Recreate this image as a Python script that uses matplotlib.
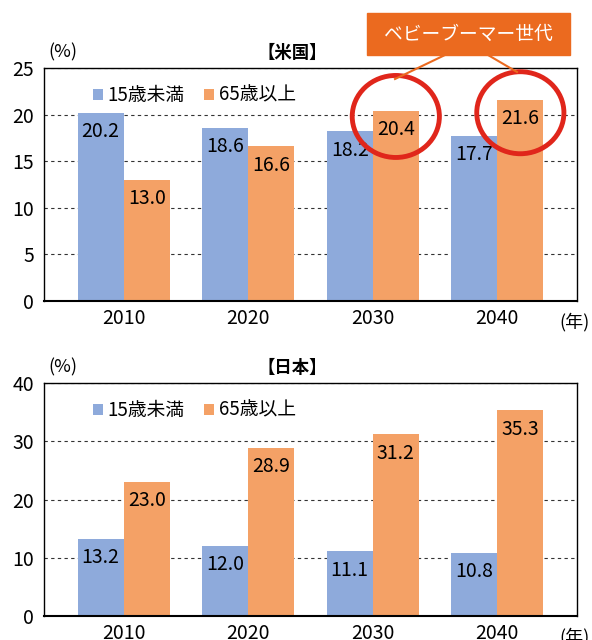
import matplotlib.pyplot as plt
from matplotlib.patches import Ellipse, Rectangle
from matplotlib.lines import Line2D
import numpy as np

plt.rcParams['font.family'] = ['Noto Sans CJK JP', 'DejaVu Sans']

years = ["2010", "2020", "2030", "2040"]
series = ["15歳未満", "65歳以上"]
us_young = [20.2, 18.6, 18.2, 17.7]
us_old = [13.0, 16.6, 20.4, 21.6]
jp_young = [13.2, 12.0, 11.1, 10.8]
jp_old = [23.0, 28.9, 31.2, 35.3]

BLUE = "#8EAADB"
ORANGE = "#F4A166"
BOX = "#EB6A1F"
RED = "#E0261B"

fig = plt.figure(figsize=(5.92, 6.4), dpi=100)
ax_us = fig.add_axes([44 / 592, 1 - 301 / 640, 533 / 592, 233 / 640])
ax_jp = fig.add_axes([44 / 592, 1 - 616 / 640, 533 / 592, 233 / 640])

x = np.arange(len(years))
w = 0.37


def draw(ax, young, old, title, ymax, step):
    ax.set_axisbelow(True)
    b1 = ax.bar(x - w / 2, young, w, color=BLUE, label=series[0])
    b2 = ax.bar(x + w / 2, old, w, color=ORANGE, label=series[1])
    for bars, vals in ((b1, young), (b2, old)):
        for r, v in zip(bars, vals):
            ax.annotate(f"{v:.1f}", (r.get_x() + r.get_width() / 2, v),
                        xytext=(0, -13.5), textcoords="offset points",
                        ha="center", va="center", fontsize=14)
    ax.set_xlim(-0.64, 3.64)
    ax.set_ylim(0, ymax)
    ax.set_yticks(np.arange(0, ymax + 1, step))
    ax.set_xticks(x, years)
    ax.tick_params(length=0, labelsize=14)
    ax.tick_params(axis="y", pad=7)
    ax.tick_params(axis="x", pad=5)
    ax.yaxis.grid(True, color="#333333", linestyle=(0, (3, 3)), linewidth=0.8)
    for s in ax.spines.values():
        s.set_linewidth(1.0)
    ax.spines["bottom"].set_linewidth(1.5)
    ax.set_title(title, fontsize=12.5, fontweight="bold", x=0.465, pad=7)
    ax.annotate("(%)", (0, 1), xycoords="axes fraction", xytext=(3, 5),
                textcoords="offset points", ha="left", va="bottom", fontsize=13)
    ax.annotate("(年)", (0.996, 0), xycoords="axes fraction", xytext=(0, -15),
                textcoords="offset points", ha="center", va="center", fontsize=13)
    ax.legend(loc="upper left", bbox_to_anchor=(0.06, 1.0), ncol=2, frameon=False,
              fontsize=13.5, handlelength=0.55, handleheight=0.55, handletextpad=0.25,
              columnspacing=1.0)


draw(ax_us, us_young, us_old, "【米国】", 25, 5)
draw(ax_jp, jp_young, jp_old, "【日本】", 40, 10)

# baby boomer circles on the US chart
for i, cy in ((2, 19.8), (3, 20.2)):
    ax_us.add_patch(Ellipse((i + w / 2, cy), 0.7, 8.8, fill=False,
                            edgecolor=RED, linewidth=3.5, clip_on=False, zorder=5))

fig.add_artist(Rectangle((367 / 592, 1 - 55 / 640), 203 / 592, 42 / 640,
                         transform=fig.transFigure, color=BOX, zorder=6))
fig.text(468 / 592, 1 - 34 / 640, "ベビーブーマー世代", color="white",
         fontsize=13.5, ha="center", va="center", zorder=7)
fig.add_artist(Line2D([445 / 592, 395 / 592], [1 - 55 / 640, 1 - 79 / 640],
                      transform=fig.transFigure, color=BOX, linewidth=1.5))
fig.add_artist(Line2D([488 / 592, 517 / 592], [1 - 55 / 640, 1 - 72 / 640],
                      transform=fig.transFigure, color=BOX, linewidth=1.5))

fig.savefig("out.png", dpi=100)
